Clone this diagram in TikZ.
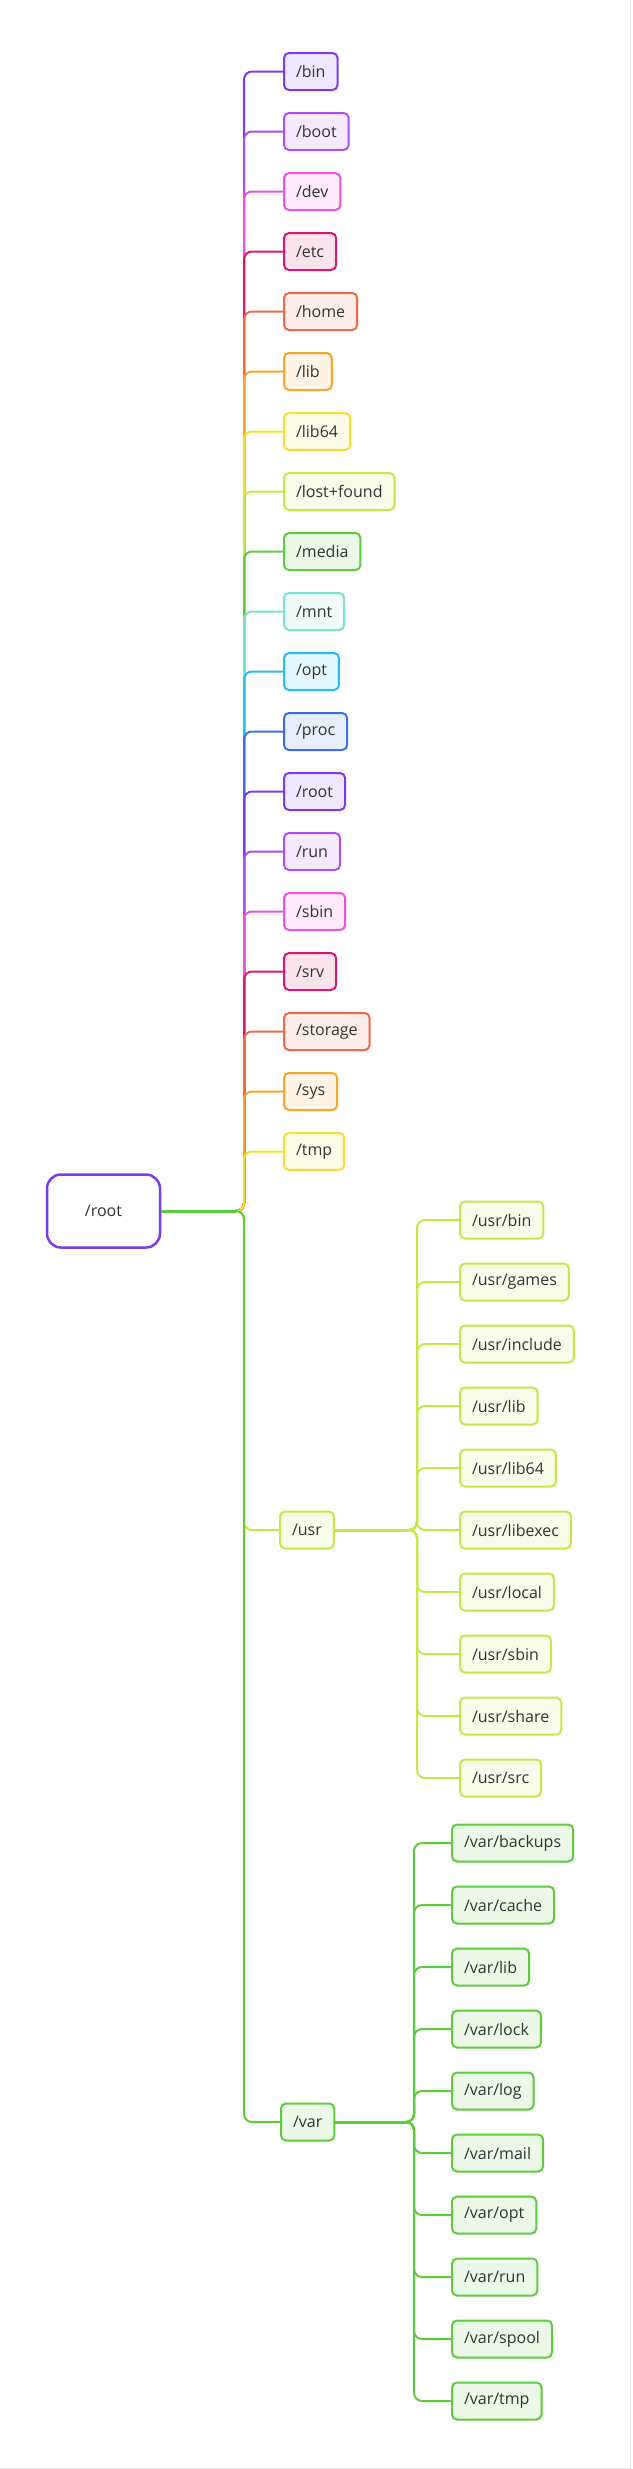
\documentclass[tikz,border=0pt]{standalone}
\usepackage{fontspec}
\setmainfont{Open Sans}
\definecolor{cA}{HTML}{7B3AEC}
\definecolor{cB}{HTML}{AD4FF0}
\definecolor{cC}{HTML}{EC52DE}
\definecolor{cD}{HTML}{E0166E}
\definecolor{cE}{HTML}{F06845}
\definecolor{cF}{HTML}{F9A52B}
\definecolor{cG}{HTML}{F9DF2B}
\definecolor{cH}{HTML}{C4E847}
\definecolor{cI}{HTML}{5DCB3E}
\definecolor{cJ}{HTML}{7EE0D0}
\definecolor{cK}{HTML}{22C0F0}
\definecolor{cL}{HTML}{3B6EE8}
\definecolor{txt}{HTML}{333333}
\definecolor{edge}{HTML}{E4E4E4}
\begin{document}
\begin{tikzpicture}[x=1pt,y=-1pt,
  font=\fontsize{16}{19}\selectfont,
  box/.style={draw=#1, fill=#1!12, line width=2pt, rounded corners=5pt,
    minimum height=37pt, inner xsep=12pt, inner ysep=0pt, text=txt, anchor=west},
  link/.style={draw=#1, line width=2pt, rounded corners=8pt},
  thick link/.style={draw=#1, line width=3pt}]
\useasboundingbox (0,0) rectangle (632,2469);
\draw[edge, line width=1pt] (630,0) -- (630,2468) -- (0,2468);

% root
\node[draw=cA, fill=white, line width=2.5pt, rounded corners=14pt,
  minimum width=113pt, minimum height=73pt, text=txt] (top) at (103.5,1211) {/root};
\coordinate (J) at (244,1211);

% first level
\foreach \name/\label/\col [count=\i from 0] in {
  bin/bin/cA, boot/boot/cB, dev/dev/cC, etc/etc/cD, home/home/cE, lib/lib/cF,
  libsf/lib64/cG, lostfound/lost+found/cH, media/media/cI, mnt/mnt/cJ, opt/opt/cK,
  proc/proc/cL, root/root/cA, run/run/cB, sbin/sbin/cC, srv/srv/cD,
  storage/storage/cE, sys/sys/cF, tmp/tmp/cG}
  \node[box=\col] (c-\name) at (283,{71.5+60*\i}) {/\label};

\node[box=cH] (c-usr) at (279,1530) {/usr};
\node[box=cI] (c-var) at (280,2122) {/var};

\foreach \name/\col in {bin/cA, boot/cB, dev/cC, etc/cD, home/cE, lib/cF,
  libsf/cG, lostfound/cH, media/cI, mnt/cJ, opt/cK, proc/cL, root/cA, run/cB,
  sbin/cC, srv/cD, storage/cE, sys/cF, tmp/cG, usr/cH, var/cI}
  \draw[link=\col] (top.east) -- (J) |- (c-\name.west);
\draw[thick link=cI] (top.east) -- ([xshift=-8pt]J);

% /usr children
\coordinate (JU) at (417,1530);
\foreach \name [count=\i from 0] in {bin,games,include,lib,lib64,libexec,local,sbin,share,src}
  \node[box=cH] (u-\name) at (459,{1220+62*\i}) {/usr/\name};
\foreach \name in {bin,games,include,lib,lib64,libexec,local,sbin,share,src}
  \draw[link=cH] (c-usr.east) -- (JU) |- (u-\name.west);
\draw[thick link=cH] (c-usr.east) -- ([xshift=-8pt]JU);

% /var children
\coordinate (JV) at (414,2122);
\foreach \name [count=\i from 0] in {backups,cache,lib,lock,log,mail,opt,run,spool,tmp}
  \node[box=cI] (v-\name) at (451,{1843+62*\i}) {/var/\name};
\foreach \name in {backups,cache,lib,lock,log,mail,opt,run,spool,tmp}
  \draw[link=cI] (c-var.east) -- (JV) |- (v-\name.west);
\draw[thick link=cI] (c-var.east) -- ([xshift=-8pt]JV);
\end{tikzpicture}
\end{document}
